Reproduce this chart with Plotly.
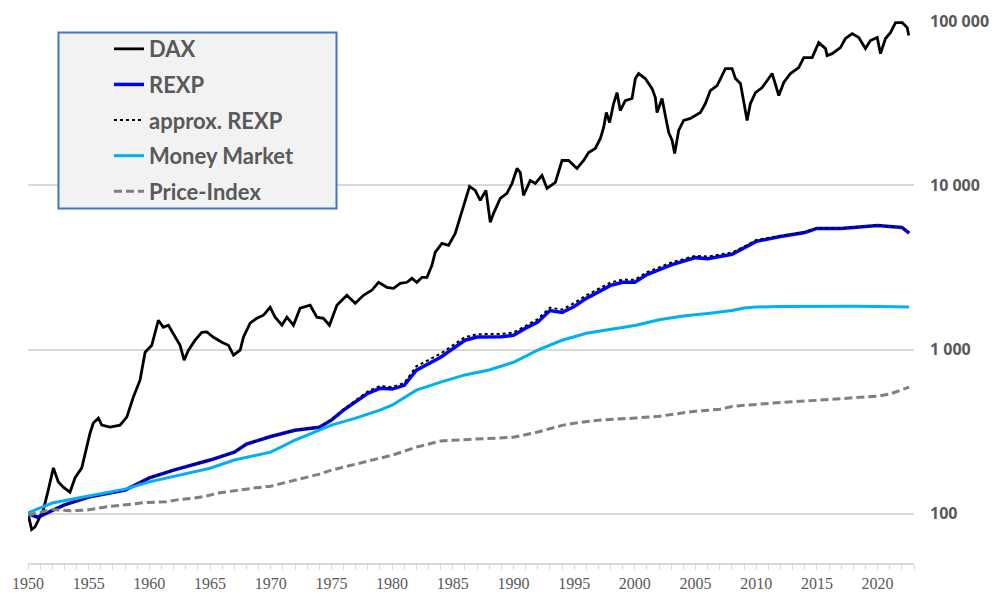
import plotly.graph_objects as go

# DAX (log scale)
dax_year = [1950.0, 1950.3, 1950.58, 1950.85, 1951.26, 1951.67, 1952.09, 1952.5, 1952.91, 1953.46,
            1953.87, 1954.43, 1954.84, 1955.11, 1955.38, 1955.8, 1956.08, 1956.76, 1957.58, 1958.14,
            1958.68, 1959.23, 1959.65, 1960.2, 1960.74, 1961.15, 1961.57, 1961.98, 1962.53, 1962.86,
            1963.22, 1963.77, 1964.32, 1964.73, 1965.28, 1965.97, 1966.51, 1966.93, 1967.48, 1967.75,
            1968.3, 1968.85, 1969.4, 1969.95, 1970.36, 1970.92, 1971.33, 1971.87, 1972.42, 1973.25,
            1973.8, 1974.34, 1974.84, 1975.45, 1976.27, 1976.96, 1977.64, 1978.33, 1978.88, 1979.57,
            1980.12, 1980.67, 1981.22, 1981.63, 1982.04, 1982.46, 1982.87, 1983.28, 1983.55, 1984.1,
            1984.65, 1985.2, 1985.61, 1986.03, 1986.38, 1986.85, 1987.26, 1987.73, 1988.09, 1988.36,
            1988.91, 1989.46, 1989.88, 1990.29, 1990.56, 1990.83, 1991.38, 1991.8, 1992.35, 1992.76,
            1993.45, 1994.0, 1994.54, 1995.23, 1995.78, 1996.19, 1996.74, 1997.16, 1997.43, 1997.65,
            1997.92, 1998.25, 1998.53, 1998.8, 1999.21, 1999.77, 2000.04, 2000.31, 2000.86, 2001.42,
            2001.69, 2001.83, 2002.24, 2002.51, 2002.79, 2003.07, 2003.28, 2003.61, 2004.02, 2004.58,
            2004.99, 2005.4, 2005.81, 2006.22, 2006.78, 2007.46, 2008.01, 2008.29, 2008.7, 2008.97,
            2009.25, 2009.52, 2009.94, 2010.49, 2011.31, 2011.86, 2012.27, 2012.82, 2013.5, 2013.92,
            2014.61, 2015.15, 2015.71, 2015.84, 2016.26, 2016.94, 2017.35, 2017.91, 2018.45, 2019.0,
            2019.41, 2019.97, 2020.24, 2020.65, 2021.06, 2021.48, 2022.03, 2022.44, 2022.57]
dax = [100, 80, 83, 91, 105, 139, 190, 156, 145, 135,
       165, 190, 254, 309, 356, 382, 346, 337, 346, 387,
       513, 650, 963, 1062, 1508, 1367, 1406, 1257, 1062, 861,
       990, 1140, 1274, 1280, 1188, 1107, 1062, 923, 990, 1188,
       1446, 1550, 1618, 1809, 1573, 1406, 1573, 1406, 1784, 1862,
       1573, 1550, 1406, 1862, 2140, 1914, 2140, 2296, 2569, 2394,
       2361, 2533, 2569, 2716, 2569, 2754, 2754, 3260, 3910, 4436,
       4315, 5105, 6383, 8110, 9863, 9330, 8110, 9330, 5955, 6755,
       8337, 8937, 10280, 12690, 11995, 8696, 10720, 10280, 11500, 9590,
       10430, 14190, 14190, 12690, 14190, 15880, 16790, 19320, 22540, 27800,
       24160, 31550, 36810, 28590, 32890, 33870, 44780, 48080, 44780, 38900,
       34340, 27800, 33870, 26680, 21030, 18790, 15660, 21630, 24890, 25590,
       26680, 27800, 31550, 37840, 40620, 51520, 51520, 44780, 41780, 32890,
       24890, 31550, 36810, 39450, 48080, 35300, 42360, 48080, 52240, 60120,
       60120, 74130, 68230, 61800, 63530, 69180, 78520, 84140, 79620, 68230,
       76380, 79620, 63530, 78520, 85310, 98180, 98180, 91620, 81850]

# REXP and its approximation
rexp_year = [1950, 1950.8, 1953, 1955, 1958, 1960, 1962, 1965, 1967, 1968, 1970, 1972, 1974, 1975,
             1976, 1978, 1979, 1980, 1981, 1982, 1984, 1985, 1986, 1987, 1988, 1989, 1990, 1991,
             1992, 1993, 1994, 1995, 1996, 1998, 1999, 2000, 2001, 2003, 2005, 2006, 2008, 2009,
             2010, 2012, 2014, 2015, 2017, 2019, 2020, 2021, 2022, 2022.6]
rexp = [100, 95, 113, 126, 139, 165, 184, 212, 237, 265, 295, 322, 336, 371,
        427, 541, 580, 574, 605, 749, 898, 1005, 1139, 1190, 1190, 1195, 1220, 1350,
        1468, 1727, 1682, 1830, 2050, 2460, 2570, 2570, 2860, 3280, 3630, 3580, 3800, 4140,
        4560, 4880, 5170, 5470, 5470, 5620, 5700, 5620, 5550, 5128]
rexp_approx = [100, 95, 113, 126, 139, 165, 184, 212, 237, 265, 295, 322, 336, 375,
               432, 555, 600, 590, 625, 790, 945, 1060, 1190, 1240, 1240, 1245, 1270, 1400,
               1530, 1800, 1750, 1920, 2140, 2560, 2670, 2660, 2960, 3390, 3730, 3680, 3900, 4230,
               4650, 4930, 5200, 5490, 5480, 5630, 5710, 5630, 5560, 5140]

# Money market
mm_year = [1950, 1952, 1955, 1958, 1960, 1963, 1965, 1967, 1970, 1972, 1974, 1975, 1977, 1979,
           1980, 1982, 1984, 1986, 1988, 1990, 1992, 1994, 1996, 1998, 2000, 2002, 2004, 2006,
           2008, 2009, 2010, 2012, 2015, 2018, 2020, 2022.6]
mm = [101, 116, 128, 141, 156, 175, 189, 212, 237, 280, 322, 346, 382, 427,
      458, 565, 633, 700, 750, 836, 991, 1139, 1255, 1330, 1400, 1520, 1600, 1660,
      1730, 1790, 1815, 1830, 1840, 1835, 1830, 1815]

# Price index
pi_year = [1950, 1951, 1952, 1953.5, 1954.8, 1956.5, 1958.1, 1959.8, 1961.4, 1962.5, 1963.6,
           1964.7, 1965.8, 1967.2, 1968.6, 1970, 1972, 1974, 1975, 1977, 1980, 1982, 1984, 1985,
           1987, 1990, 1992, 1994, 1995, 1997, 2000, 2002, 2005, 2007, 2008, 2010, 2012, 2015,
           2018, 2020, 2021, 2022, 2022.6]
pi = [98, 102, 106, 104, 105, 110, 113, 117, 118, 122, 124,
      128, 134, 139, 143, 147, 160, 174, 184, 200, 227, 254, 277, 280,
      284, 292, 314, 345, 355, 371, 382, 392, 421, 432, 450, 465, 476, 490,
      505, 520, 535, 565, 590]

year_ticks = list(range(1950, 2021, 5))
y_ticks = [100, 1000, 10000, 100000]
y_labels = ["100", "1 000", "10 000", "100 000"]

grey = "#595959"
fig = go.Figure()
fig.add_trace(go.Scatter(x=dax_year, y=dax, name="DAX", legendgroup="a",
                         line=dict(color="black", width=2.8)))
fig.add_trace(go.Scatter(x=rexp_year, y=rexp, name="REXP", legendgroup="b",
                         line=dict(color="#0000ff", width=3.5)))
fig.add_trace(go.Scatter(x=rexp_year, y=rexp_approx, name="approx. REXP", legendgroup="c",
                         line=dict(color="black", width=2, dash="dot")))
fig.add_trace(go.Scatter(x=mm_year, y=mm, name="Money Market", legendgroup="d",
                         line=dict(color="#00b0f0", width=3)))
fig.add_trace(go.Scatter(x=pi_year, y=pi, name="Price-Index", legendgroup="e",
                         line=dict(color="#7f7f7f", width=3, dash="8px,4px")))

fig.update_traces(mode="lines", hoverinfo="skip")

# legend frame
fig.add_shape(type="rect", xref="paper", yref="paper", layer="above",
              x0=0.0344, x1=0.3482, y0=0.654, y1=0.9786,
              fillcolor="#f2f2f2", line=dict(color="#4472c4", width=2))

# the page body adds an 8px margin, so the figure is 8px smaller than the window
fig.update_layout(
    width=992, height=586,
    margin=dict(l=20, r=86, t=13, b=31),
    paper_bgcolor="white", plot_bgcolor="white",
    showlegend=True,
    legend=dict(x=0.0914, y=0.987, xanchor="left", yanchor="top",
                bgcolor="rgba(0,0,0,0)", borderwidth=0,
                traceorder="grouped", tracegroupgap=4,
                font=dict(family="Lato", size=22, color=grey, weight="bold")),
    xaxis=dict(range=[1950, 2023], tickvals=year_ticks, showgrid=False, automargin=False,
               showline=True, linecolor="#d9d9d9", linewidth=1.5,
               ticks="outside", ticklen=5, tickcolor="#d9d9d9",
               minor=dict(dtick=1, tick0=1950, ticks="outside", ticklen=5, tickcolor="#d9d9d9"),
               ticklabelstandoff=0,
               tickfont=dict(family="Liberation Sans Narrow", size=16, color=grey),
               zeroline=False),
    yaxis=dict(type="log", side="right", range=[1.69897, 5.002], automargin=False,
               tickvals=y_ticks, ticktext=y_labels,
               showgrid=True, gridcolor="#d9d9d9", gridwidth=1.5,
               showline=False, zeroline=False, ticks="",
               ticklabelstandoff=15,
               tickfont=dict(family="Open Sans", size=16, color=grey, weight="bold")),
)

fig.write_html("out.html")
